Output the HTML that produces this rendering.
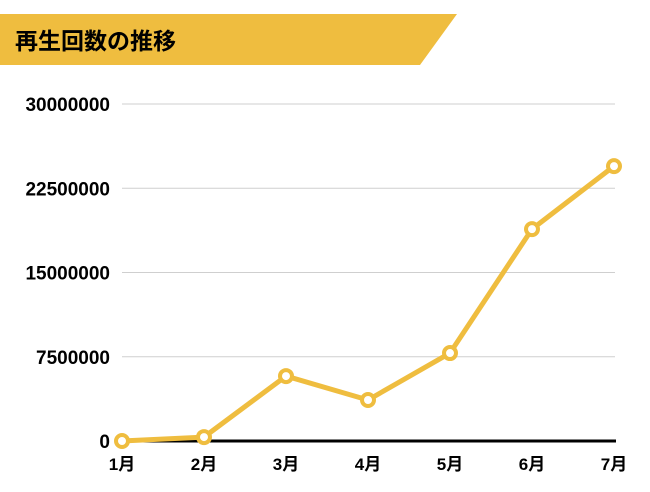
<!DOCTYPE html>
<html><head><meta charset="utf-8"><style>
body{margin:0;background:#fff;width:650px;height:487px;overflow:hidden}
svg text{font-family:"Liberation Sans","Noto Sans CJK JP",sans-serif;font-weight:bold;fill:#000}
</style></head><body>
<svg id="chart" width="650" height="487" xmlns="http://www.w3.org/2000/svg">
<polygon points="0,14 457,14 420,65 0,65" fill="#EFBD3F"/>
<text x="15" y="49" font-size="23">再生回数の推移</text>
<g id="grid"></g><g id="series"></g>
</svg>
<script>
const categories=["1月","2月","3月","4月","5月","6月","7月"];
const values=[0,350000,5780000,3650000,7830000,18860000,24470000];
const yTicks=[0,7500000,15000000,22500000,30000000];
const NS="http://www.w3.org/2000/svg";
const x=i=>122+i*82;
const y=v=>441-v/30000000*337;
const grid=document.getElementById('grid'),ser=document.getElementById('series');
function mk(t,a,p){const e=document.createElementNS(NS,t);for(const k in a)e.setAttribute(k,a[k]);p.appendChild(e);return e;}
yTicks.forEach(t=>{
  if(t>0){const l=mk('line',{x1:122,x2:615,y1:y(t),y2:y(t),stroke:'#cfcfcf','stroke-width':1},grid);
  
  }
  const tx=mk('text',{x:110,y:y(t)+7,'text-anchor':'end','font-size':19},grid);
  tx.textContent=t;
  
  
});
const ax=mk('line',{x1:120,x2:616,y1:441,y2:441,stroke:'#000','stroke-width':3},grid);


categories.forEach((c,i)=>{
  const tx=mk('text',{x:x(i),y:470,'text-anchor':'middle','font-size':17},grid);
  tx.textContent=c;
  
  
});
const pl=mk('polyline',{points:values.map((v,i)=>x(i)+','+y(v)).join(' '),fill:'none',stroke:'#EFBD3F','stroke-width':5,'stroke-linejoin':'round'},ser);


values.forEach((v,i)=>{
  const c=mk('circle',{cx:x(i),cy:y(v),r:6,fill:'#fff',stroke:'#EFBD3F','stroke-width':4},ser);
  
  
});
</script>
</body></html>
